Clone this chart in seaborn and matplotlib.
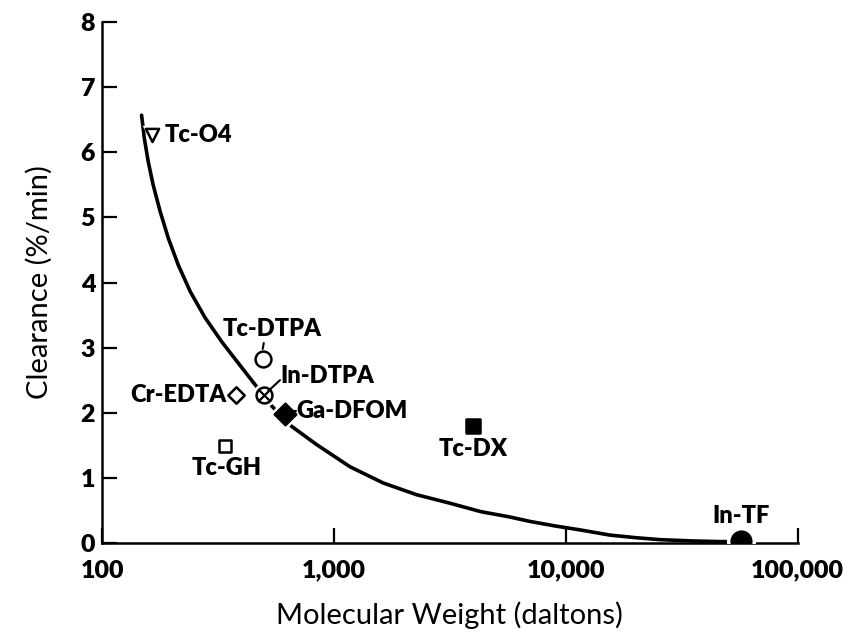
import matplotlib
matplotlib.use("Agg")
import matplotlib.pyplot as plt
import seaborn as sns
import pandas as pd
from matplotlib.ticker import FixedLocator, FixedFormatter, NullLocator

# ---- data ----
agents = ["Tc-O4", "Tc-DTPA", "In-DTPA", "Cr-EDTA", "Ga-DFOM", "Tc-GH", "Tc-DX", "In-TF"]
mol_weight = [164, 493, 499, 378, 615, 339, 3980, 57000]
clearance = [6.27, 2.82, 2.27, 2.27, 1.98, 1.49, 1.80, 0.03]

curve_mw = [148, 152, 158, 166, 178, 193, 213, 240, 278, 328, 387, 457, 540,
            657, 842, 1172, 1632, 2273, 3162, 4300, 5700, 7000, 9000, 11500,
            15500, 20000, 25400, 35000, 46100, 54000]
curve_cl = [6.57, 6.22, 5.86, 5.50, 5.09, 4.68, 4.27, 3.86, 3.46, 3.09, 2.76,
            2.43, 2.10, 1.79, 1.51, 1.17, 0.92, 0.74, 0.61, 0.48, 0.40, 0.33,
            0.26, 0.20, 0.12, 0.08, 0.05, 0.03, 0.02, 0.02]

x_ticks = [100, 1000, 10000, 100000]
x_tick_labels = ["100", "1,000", "10,000", "100,000"]
y_ticks = [0, 1, 2, 3, 4, 5, 6, 7, 8]

sns.set_theme(style="ticks")
plt.rcParams["font.family"] = ["Lato", "DejaVu Sans"]

fig = plt.figure(figsize=(8.44, 6.32), dpi=100)
ax = fig.add_axes([0.121, 0.141, 0.824, 0.824])

curve_df = pd.DataFrame({"mw": curve_mw, "cl": curve_cl})
sns.lineplot(data=curve_df, x="mw", y="cl", ax=ax, color="black", lw=2.6,
             sort=False, zorder=2)

pts = pd.DataFrame({"agent": agents, "mw": mol_weight, "cl": clearance})

styles = {
    "Tc-O4":   dict(marker="v", fc="white", s=90),
    "Tc-DTPA": dict(marker="o", fc="white", s=130),
    "In-DTPA": dict(marker="o", fc="white", s=130),
    "Cr-EDTA": dict(marker="D", fc="white", s=70),
    "Ga-DFOM": dict(marker="D", fc="black", s=120),
    "Tc-GH":   dict(marker="s", fc="white", s=80),
    "Tc-DX":   dict(marker="s", fc="black", s=110),
    "In-TF":   dict(marker="o", fc="black", s=200),
}
for name, st in styles.items():
    sub = pts[pts.agent == name]
    # white halo to break the curve under the marker
    sns.scatterplot(data=sub, x="mw", y="cl", ax=ax, marker=st["marker"],
                    s=st["s"] * 2.2, color="white", edgecolor="white",
                    linewidth=0, zorder=3, legend=False)
    sns.scatterplot(data=sub, x="mw", y="cl", ax=ax, marker=st["marker"],
                    s=st["s"], color=st["fc"], edgecolor="black",
                    linewidth=1.8, zorder=4, legend=False)
    if name == "In-DTPA":
        sns.scatterplot(data=sub, x="mw", y="cl", ax=ax, marker="x",
                        s=60, color="black", linewidth=1.6, zorder=5, legend=False)

# labels (text positions in data coordinates)
lab_font = dict(fontsize=17, fontweight="heavy", color="black", zorder=6)
ax.text(186, 6.27, "Tc-O4", ha="left", va="center", **lab_font)
ax.text(540, 3.28, "Tc-DTPA", ha="center", va="center", **lab_font)
ax.text(590, 2.56, "In-DTPA", ha="left", va="center", **lab_font)
ax.text(345, 2.27, "Cr-EDTA", ha="right", va="center", **lab_font)
ax.text(690, 2.03, "Ga-DFOM", ha="left", va="center", **lab_font)
ax.text(345, 1.15, "Tc-GH", ha="center", va="center", **lab_font)
ax.text(3980, 1.44, "Tc-DX", ha="center", va="center", **lab_font)
ax.text(57000, 0.42, "In-TF", ha="center", va="center", **lab_font)

# leader lines
ax.plot([498, 493], [3.07, 2.98], color="black", lw=1.5, zorder=5)
ax.plot([520, 585], [2.33, 2.50], color="black", lw=1.5, zorder=5)
ax.plot([650, 685], [2.03, 2.03], color="black", lw=1.5, zorder=5)

ax.set_xscale("log")
ax.set_xlim(100, 100000)
ax.set_ylim(0, 8)
ax.xaxis.set_major_locator(FixedLocator(x_ticks))
ax.xaxis.set_major_formatter(FixedFormatter(x_tick_labels))
ax.xaxis.set_minor_locator(NullLocator())
ax.set_yticks(y_ticks)
ax.set_yticklabels([str(v) for v in y_ticks])

ax.tick_params(axis="both", direction="in", width=1.6, length=11,
               labelsize=18, colors="black")
for lbl in ax.get_xticklabels() + ax.get_yticklabels():
    lbl.set_fontweight("heavy")
ax.tick_params(axis="x", pad=12)
ax.tick_params(axis="y", pad=5)

for side in ["top", "right"]:
    ax.spines[side].set_visible(False)
for side in ["left", "bottom"]:
    ax.spines[side].set_linewidth(1.8)
    ax.spines[side].set_color("black")

ax.set_xlabel("Molecular Weight (daltons)", fontsize=21, labelpad=14, color="black")
ax.set_ylabel("Clearance (%/min)", fontsize=21, labelpad=20, color="black")

fig.savefig("out.png", dpi=100, facecolor="white")
